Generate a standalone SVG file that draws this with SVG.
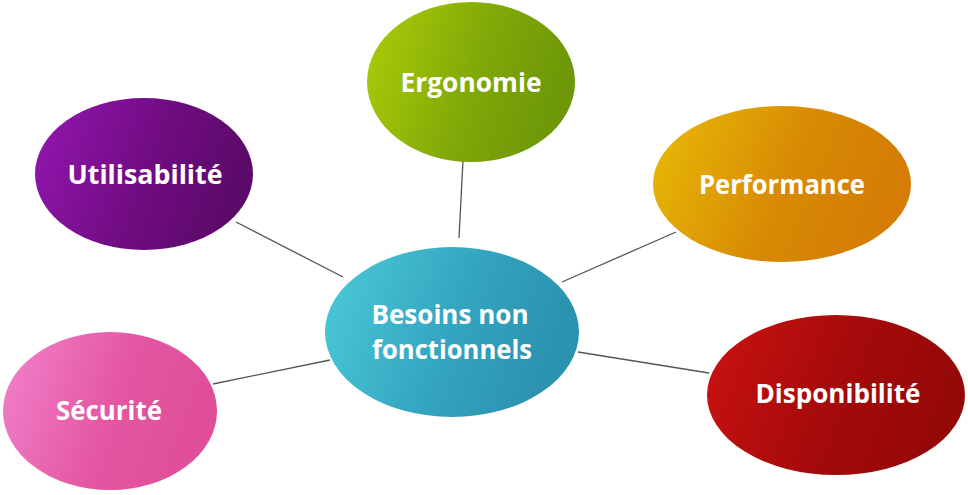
<svg xmlns="http://www.w3.org/2000/svg" width="968" height="495" viewBox="0 0 968 495">
<defs>
<linearGradient id="gC" x1="0" y1="0" x2="1" y2="0.25"><stop offset="0" stop-color="#4ccbd9"/><stop offset="0.6" stop-color="#33a4bf"/><stop offset="1" stop-color="#2b92b0"/></linearGradient>
<linearGradient id="gU" x1="0" y1="0" x2="1" y2="0.25"><stop offset="0" stop-color="#9417b2"/><stop offset="0.6" stop-color="#700c80"/><stop offset="1" stop-color="#5c0a6a"/></linearGradient>
<linearGradient id="gE" x1="0" y1="0" x2="1" y2="0.25"><stop offset="0" stop-color="#aece08"/><stop offset="0.6" stop-color="#80a808"/><stop offset="1" stop-color="#6e9808"/></linearGradient>
<linearGradient id="gP" x1="0" y1="0" x2="1" y2="0.25"><stop offset="0" stop-color="#e8bc06"/><stop offset="0.6" stop-color="#d88a04"/><stop offset="1" stop-color="#d47c04"/></linearGradient>
<linearGradient id="gD" x1="0" y1="0" x2="1" y2="0.25"><stop offset="0" stop-color="#cc1212"/><stop offset="0.6" stop-color="#a40a0a"/><stop offset="1" stop-color="#960808"/></linearGradient>
<linearGradient id="gS" x1="0" y1="0" x2="1" y2="0.25"><stop offset="0" stop-color="#f282cc"/><stop offset="0.6" stop-color="#e456a2"/><stop offset="1" stop-color="#e04e98"/></linearGradient>
</defs>
<style>
.lbl{font-family:"Open Sans","Liberation Sans",sans-serif;font-weight:bold;font-size:27px;fill:#ffffff;text-anchor:middle}
.conn line{stroke:#555555;stroke-width:1.3}
.node ellipse{stroke:none}
</style>
<rect width="968" height="495" fill="#ffffff"/>
<g id="connectors" class="conn">
<line x1="236" y1="222" x2="343" y2="277"/>
<line x1="463" y1="160" x2="459" y2="238"/>
<line x1="676" y1="232" x2="562" y2="282"/>
<line x1="578" y1="352" x2="709" y2="373"/>
<line x1="213" y1="384" x2="330" y2="360"/>
</g>
<g id="utilisabilite" class="node">
<ellipse cx="144" cy="174" rx="109" ry="76" fill="url(#gU)"/>
<text class="lbl" x="145" y="184" textLength="155" lengthAdjust="spacingAndGlyphs">Utilisabilité</text>
</g>
<g id="ergonomie" class="node">
<ellipse cx="471" cy="82" rx="104" ry="80" fill="url(#gE)"/>
<text class="lbl" x="471" y="92" textLength="141" lengthAdjust="spacingAndGlyphs">Ergonomie</text>
</g>
<g id="performance" class="node">
<ellipse cx="782" cy="184" rx="129" ry="78" fill="url(#gP)"/>
<text class="lbl" x="782" y="194" textLength="166" lengthAdjust="spacingAndGlyphs">Performance</text>
</g>
<g id="disponibilite" class="node">
<ellipse cx="836" cy="395" rx="129" ry="80" fill="url(#gD)"/>
<text class="lbl" x="838" y="403" textLength="165" lengthAdjust="spacingAndGlyphs">Disponibilité</text>
</g>
<g id="securite" class="node">
<ellipse cx="110" cy="411" rx="107" ry="79" fill="url(#gS)"/>
<text class="lbl" x="109" y="420" textLength="106" lengthAdjust="spacingAndGlyphs">Sécurité</text>
</g>
<g id="besoins" class="node">
<ellipse cx="452" cy="332" rx="127" ry="85" fill="url(#gC)"/>
<text class="lbl" x="450" y="324" textLength="157" lengthAdjust="spacingAndGlyphs">Besoins non</text>
<text class="lbl" x="452" y="359" textLength="160" lengthAdjust="spacingAndGlyphs">fonctionnels</text>
</g>
</svg>
